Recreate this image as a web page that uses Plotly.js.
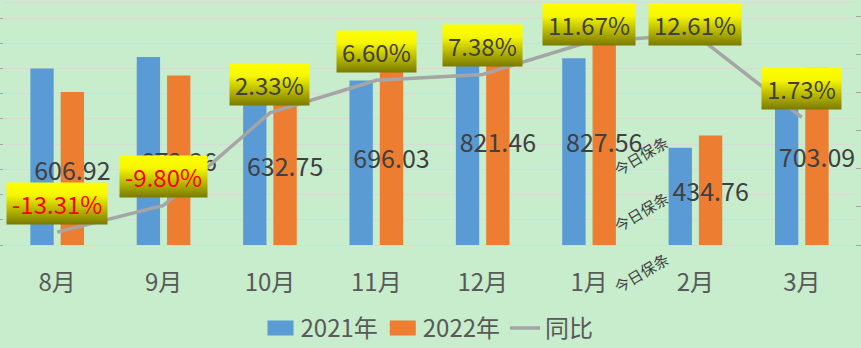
<!DOCTYPE html>
<html>
<head>
<meta charset="utf-8">
<script src="https://cdn.plot.ly/plotly-3.0.1.min.js"></script>
<style>
html,body{margin:0;padding:0;background:#C7EDCC;}
#chart{width:861px;height:348px;}
</style>
</head>
<body>
<div id="chart"></div>
<script>
const months = ['8月','9月','10月','11月','12月','1月','2月','3月'];
const v2021 = [700.1, 745.4, 618.3, 652.9, 765.0, 741.1, 386.1, 691.1];
const v2022 = [606.92, 672.36, 632.75, 696.03, 821.46, 827.56, 434.76, 703.09];
const yoy = [-13.31, -9.80, 2.33, 6.60, 7.38, 11.67, 12.61, 1.73];
const seriesNames = ['2021年', '2022年', '同比'];
const watermark = '今日保条';

const FONT = '"Noto Sans CJK SC", "Noto Sans", sans-serif';
const BG = '#C7EDCC';

const data = [
  {type:'bar', name:seriesNames[0], x:months, y:v2021, marker:{color:'#5B9BD5'}, hoverinfo:'none'},
  {type:'bar', name:seriesNames[1], x:months, y:v2022, marker:{color:'#ED7D31'},
   text:v2022.map(v=>v.toFixed(2)), textposition:'inside', insidetextanchor:'middle',
   constraintext:'none', textangle:0, cliponaxis:false,
   insidetextfont:{family:FONT, size:25, color:'#404040'}, hoverinfo:'none'},
  {type:'scatter', mode:'lines', name:seriesNames[2], x:months, y:yoy, yaxis:'y2',
   line:{color:'#A5A5A5', width:3.5}, hoverinfo:'none'}
];

const annotations = yoy.map((v,i)=>({
  x: months[i], y: Math.min(v, 10.2), xref:'x', yref:'y2',
  text: v.toFixed(2)+'%', showarrow:false, xanchor:'center', yanchor:'bottom', yshift:8,
  font:{family:FONT, size:24, color: v<0 ? '#FF0000' : '#404040'},
  bgcolor:'#FFFF00', borderpad:2
}));
[0.368, 0.140, -0.112].forEach(py=>{
  annotations.push({x:0.7485, y:py, xref:'paper', yref:'paper', xanchor:'center', yanchor:'middle',
    text:watermark, showarrow:false, textangle:-31, font:{family:FONT, size:15, color:'#404040'}});
});

const layout = {
  width:861, height:348,
  margin:{l:4, r:6, t:3, b:103, autoexpand:false},
  paper_bgcolor:BG, plot_bgcolor:BG,
  font:{family:FONT, color:'#595959'},
  barmode:'group', bargap:0.43, bargroupgap:0.23,
  showlegend:true,
  legend:{orientation:'h', x:0.5, xanchor:'center', y:-0.345, yanchor:'middle',
    font:{family:FONT, size:24, color:'#595959'}, bgcolor:'rgba(0,0,0,0)', traceorder:'normal'},
  xaxis:{type:'category', showgrid:false, showline:true, linecolor:'#D9D9D9', linewidth:1, mirror:true,
    tickfont:{family:FONT, size:24, color:'#595959'}, ticks:'', ticklabelstandoff:16, fixedrange:true},
  yaxis:{range:[0,960], dtick:100, showgrid:true, gridcolor:'#D9D9D9', gridwidth:1,
    showticklabels:false, ticks:'outside', ticklen:4, tickcolor:'#A6A6A6', zeroline:false, fixedrange:true},
  yaxis2:{overlaying:'y', side:'right', range:[-15,16.75], dtick:5, showgrid:false, zeroline:false,
    showticklabels:false, ticks:'outside', ticklen:5, tickcolor:'#A6A6A6', fixedrange:true},
  annotations:annotations
};

Plotly.newPlot('chart', data, layout, {staticPlot:true, displayModeBar:false}).then(gd=>{
  const ns='http://www.w3.org/2000/svg';
  const svg = gd.querySelector('svg.main-svg');
  let defs = svg.querySelector('defs');
  if(!defs){ defs = document.createElementNS(ns,'defs'); svg.insertBefore(defs, svg.firstChild); }
  const lg = document.createElementNS(ns,'linearGradient');
  lg.setAttribute('id','ygrad'); lg.setAttribute('x1','0'); lg.setAttribute('y1','0');
  lg.setAttribute('x2','0'); lg.setAttribute('y2','1');
  [['0','#FFFF00'],['0.3','#F6F600'],['1','#7A7A00']].forEach(([o,c])=>{
    const s=document.createElementNS(ns,'stop'); s.setAttribute('offset',o); s.setAttribute('stop-color',c); lg.appendChild(s);
  });
  defs.appendChild(lg);
  gd.querySelectorAll('g.annotation').forEach(a=>{
    const idx = +a.getAttribute('data-index');
    if(idx < yoy.length){
      const r = a.querySelector('rect.bg');
      if(r){
        r.style.fill='url(#ygrad)';
        const x=+r.getAttribute('x'), w=+r.getAttribute('width');
        const y=+r.getAttribute('y'), h=+r.getAttribute('height');
        r.setAttribute('x', x-3); r.setAttribute('width', w+6);
        r.setAttribute('y', y-1); r.setAttribute('height', h+2);
      }
    }
  });
  gd.querySelectorAll('.legend .traces').forEach((t,i)=>{
    if(i<2){ t.querySelectorAll('.legendpoints path').forEach(p=>p.setAttribute('d','M13,7.5H-13V-7.5H13Z')); }
  });
});
</script>
</body>
</html>
